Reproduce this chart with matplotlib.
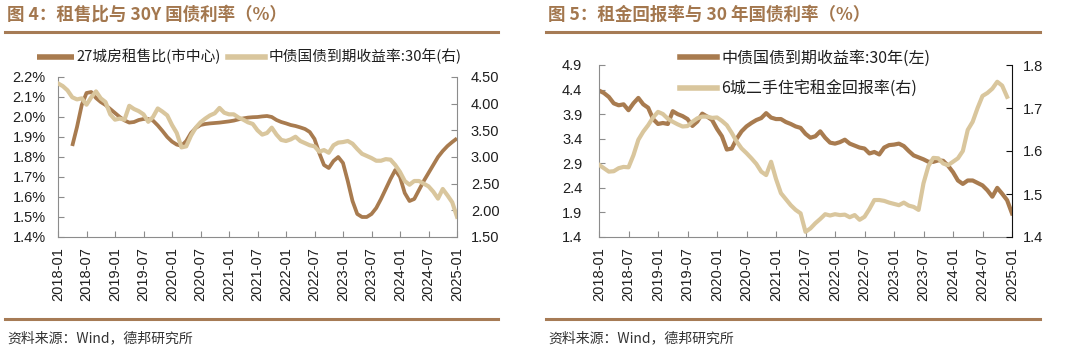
import matplotlib
matplotlib.use('Agg')
import matplotlib.pyplot as plt
from matplotlib.lines import Line2D

plt.rcParams['font.family'] = ['Liberation Sans', 'Noto Sans CJK SC', 'DejaVu Sans']

# ---------------- data ----------------
# month index: 0 = 2018-01 ... 84 = 2025-01
month_ticks = [0, 6, 12, 18, 24, 30, 36, 42, 48, 54, 60, 66, 72, 78, 84]
month_labels = ['2018-01', '2018-07', '2019-01', '2019-07', '2020-01', '2020-07',
                '2021-01', '2021-07', '2022-01', '2022-07', '2023-01', '2023-07',
                '2024-01', '2024-07', '2025-01']

# 中债国债到期收益率:30年, monthly 2018-01 .. 2025-01
yield30 = [4.38, 4.33, 4.25, 4.12, 4.08, 4.10, 3.98, 4.12, 4.23, 4.10, 4.03, 3.80,
           3.70, 3.72, 3.70, 3.96, 3.90, 3.86, 3.80, 3.66, 3.75, 3.91, 3.85, 3.78,
           3.60, 3.45, 3.18, 3.20, 3.40, 3.55, 3.65, 3.72, 3.78, 3.82, 3.92, 3.83,
           3.80, 3.80, 3.74, 3.70, 3.65, 3.62, 3.50, 3.42, 3.45, 3.55, 3.42, 3.32,
           3.30, 3.33, 3.38, 3.30, 3.26, 3.22, 3.20, 3.10, 3.13, 3.08, 3.22, 3.27,
           3.28, 3.30, 3.25, 3.15, 3.06, 3.02, 2.98, 2.93, 2.93, 2.96, 2.95, 2.85,
           2.72, 2.55, 2.48, 2.55, 2.55, 2.50, 2.45, 2.35, 2.22, 2.40, 2.28, 2.15,
           1.88]
yield_months = list(range(85))

# 27城房租售比(市中心), monthly 2018-04 .. 2025-01 (%)
ratio_months = list(range(3, 85))
ratio = [1.855, 1.950, 2.060, 2.120, 2.125, 2.095, 2.075, 2.060, 2.040,
         2.020, 2.000, 1.983, 1.972, 1.975, 1.985, 1.990, 1.990, 1.982, 1.958, 1.930, 1.900,
         1.877, 1.862, 1.856, 1.880, 1.920, 1.945, 1.960, 1.965, 1.968, 1.970, 1.972, 1.975,
         1.978, 1.982, 1.988, 1.993, 1.997, 1.999, 2.000, 2.003, 2.005, 2.000, 1.985, 1.975,
         1.968, 1.960, 1.955, 1.948, 1.940, 1.925, 1.890, 1.820, 1.760, 1.745, 1.780, 1.800,
         1.770, 1.680, 1.580, 1.515, 1.500, 1.500, 1.515, 1.545, 1.590, 1.640, 1.690, 1.735,
         1.700, 1.620, 1.580, 1.590, 1.635, 1.680, 1.720, 1.760, 1.800, 1.830, 1.855, 1.875,
         1.893]

# 6城二手住宅租金回报率, monthly 2018-01 .. 2024-12 (%)
rent_months = list(range(84))
rent_yield = [1.568, 1.560, 1.552, 1.553, 1.560, 1.563, 1.562, 1.590, 1.626, 1.645, 1.660, 1.678,
              1.691, 1.686, 1.675, 1.668, 1.662, 1.657, 1.658, 1.668, 1.676, 1.680, 1.680, 1.677,
              1.678, 1.670, 1.660, 1.642, 1.622, 1.606, 1.595, 1.583, 1.570, 1.552, 1.544, 1.575,
              1.535, 1.502, 1.488, 1.474, 1.463, 1.455, 1.412, 1.420, 1.432, 1.442, 1.453, 1.450,
              1.453, 1.451, 1.452, 1.446, 1.451, 1.440, 1.447, 1.465, 1.486, 1.486, 1.484, 1.480,
              1.477, 1.474, 1.480, 1.473, 1.470, 1.463, 1.525, 1.565, 1.584, 1.583, 1.571, 1.567,
              1.575, 1.583, 1.600, 1.649, 1.668, 1.700, 1.728, 1.735, 1.745, 1.761, 1.752, 1.726]

left_ticks_a = [1.4, 1.5, 1.6, 1.7, 1.8, 1.9, 2.0, 2.1, 2.2]
left_labels_a = ['1.4%', '1.5%', '1.6%', '1.7%', '1.8%', '1.9%', '2.0%', '2.1%', '2.2%']
right_ticks_a = [1.5, 2.0, 2.5, 3.0, 3.5, 4.0, 4.5]
right_labels_a = ['1.50', '2.00', '2.50', '3.00', '3.50', '4.00', '4.50']
left_ticks_b = [1.4, 1.9, 2.4, 2.9, 3.4, 3.9, 4.4, 4.9]
left_labels_b = ['1.4', '1.9', '2.4', '2.9', '3.4', '3.9', '4.4', '4.9']
right_ticks_b = [1.4, 1.5, 1.6, 1.7, 1.8]
right_labels_b = ['1.4', '1.5', '1.6', '1.7', '1.8']

titles = ['图 4：租售比与 30Y 国债利率（%）', '图 5：租金回报率与 30 年国债利率（%）']
source = '资料来源：Wind，德邦研究所'
name_ratio = '27城房租售比(市中心)'
name_yield_a = '中债国债到期收益率:30年(右)'
name_yield_b = '中债国债到期收益率:30年(左)'
name_rent = '6城二手住宅租金回报率(右)'

# ---------------- style ----------------
W, H = 1080, 358
BROWN = '#A87B4F'
TAN = '#D9C69D'
TITLE_C = '#A3774E'
RULE_C = '#A67B55'
SPINE = '#8C8C8C'
TXT = '#1E1E1E'
CJK = ['Noto Sans CJK SC', 'DejaVu Sans']
TICKFS = 10.5

fig = plt.figure(figsize=(W / 100, H / 100), dpi=100)
fig.patch.set_facecolor('white')


def fx(px):
    return px / W


def fy(py):
    return 1 - py / H


def style_axes(ax, twin, right_spine_color):
    ax.spines['top'].set_visible(False)
    twin.spines['top'].set_visible(False)
    twin.spines['left'].set_visible(False)
    twin.spines['bottom'].set_visible(False)
    ax.spines['right'].set_visible(False)
    ax.spines['left'].set_color(SPINE)
    ax.spines['bottom'].set_color(SPINE)
    twin.spines['right'].set_color(right_spine_color)
    ax.tick_params(axis='y', direction='in', length=4, color=SPINE, labelsize=TICKFS,
                   labelcolor=TXT, pad=9)
    ax.tick_params(axis='x', direction='in', length=4, color=SPINE, labelsize=TICKFS,
                   labelcolor=TXT, pad=7)
    twin.tick_params(axis='y', direction='in', length=4, color=right_spine_color,
                     labelsize=TICKFS, labelcolor=TXT, pad=10)
    ax.set_xlim(0, 84)
    ax.set_xticks(month_ticks)
    ax.set_xticklabels(month_labels, rotation=90)
    ax.set_facecolor('none')


# ---------------- left panel ----------------
ax1 = fig.add_axes([fx(58), fy(237), fx(457 - 58), (237 - 77) / H])
ax1b = ax1.twinx()
l1, = ax1.plot(ratio_months, ratio, color=BROWN, lw=2.7, solid_capstyle='butt')
l2, = ax1b.plot(yield_months, yield30, color=TAN, lw=3.0)
ax1.set_ylim(1.4, 2.2)
ax1.set_yticks(left_ticks_a)
ax1.set_yticklabels(left_labels_a)
ax1b.set_ylim(1.5, 4.5)
ax1b.set_yticks(right_ticks_a)
ax1b.set_yticklabels(right_labels_a)
style_axes(ax1, ax1b, SPINE)

leg1 = fig.legend([l1, l2], [name_ratio, name_yield_a], loc='upper left',
                  bbox_to_anchor=(fx(37), fy(49)), bbox_transform=fig.transFigure,
                  ncol=2, frameon=False, borderpad=0, borderaxespad=0,
                  handlelength=2.5, handletextpad=0.2, columnspacing=0.5,
                  prop={'family': CJK, 'size': 10.6})
for t in leg1.get_texts():
    t.set_color(TXT)
for h in leg1.legend_handles:
    h.set_linewidth(4)

# ---------------- right panel ----------------
ax2 = fig.add_axes([fx(599), fy(237), fx(1012 - 599), (237 - 65) / H])
ax2b = ax2.twinx()
m1, = ax2.plot(yield_months, yield30, color=BROWN, lw=3.0)
m2, = ax2b.plot(rent_months, rent_yield, color=TAN, lw=3.0)
ax2.set_ylim(1.4, 4.9)
ax2.set_yticks(left_ticks_b)
ax2.set_yticklabels(left_labels_b)
ax2b.set_ylim(1.4, 1.8)
ax2b.set_yticks(right_ticks_b)
ax2b.set_yticklabels(right_labels_b)
style_axes(ax2, ax2b, '#111111')
ax2.tick_params(axis='y', pad=12)
ax2b.tick_params(axis='y', pad=8)

leg2 = fig.legend([m1, m2], [name_yield_b, name_rent], loc='upper left',
                  bbox_to_anchor=(fx(680), fy(50)), bbox_transform=fig.transFigure,
                  ncol=1, frameon=False, borderpad=0, borderaxespad=0,
                  handlelength=2.3, handletextpad=0.3, labelspacing=0.85,
                  prop={'family': CJK, 'size': 11.5})
for t in leg2.get_texts():
    t.set_color(TXT)
for h in leg2.legend_handles:
    h.set_linewidth(4)

# ---------------- titles, rules, source ----------------
for x0, x1, title in [(5, 498, titles[0]), (546, 1040, titles[1])]:
    fig.text(fx(x0 + 2), fy(15), title, ha='left', va='center', fontsize=12.6,
             fontweight='bold', color=TITLE_C, family=CJK)
    fig.add_artist(Line2D([fx(x0), fx(x1)], [fy(32), fy(32)], color=RULE_C, lw=2.2))
    fig.add_artist(Line2D([fx(x0), fx(x1)], [fy(319), fy(319)], color=RULE_C, lw=2.2))
    fig.text(fx(x0 + 2), fy(338), source, ha='left', va='center', fontsize=10,
             color='#333333', family=CJK)

fig.savefig('out.png', dpi=100, facecolor='white')
